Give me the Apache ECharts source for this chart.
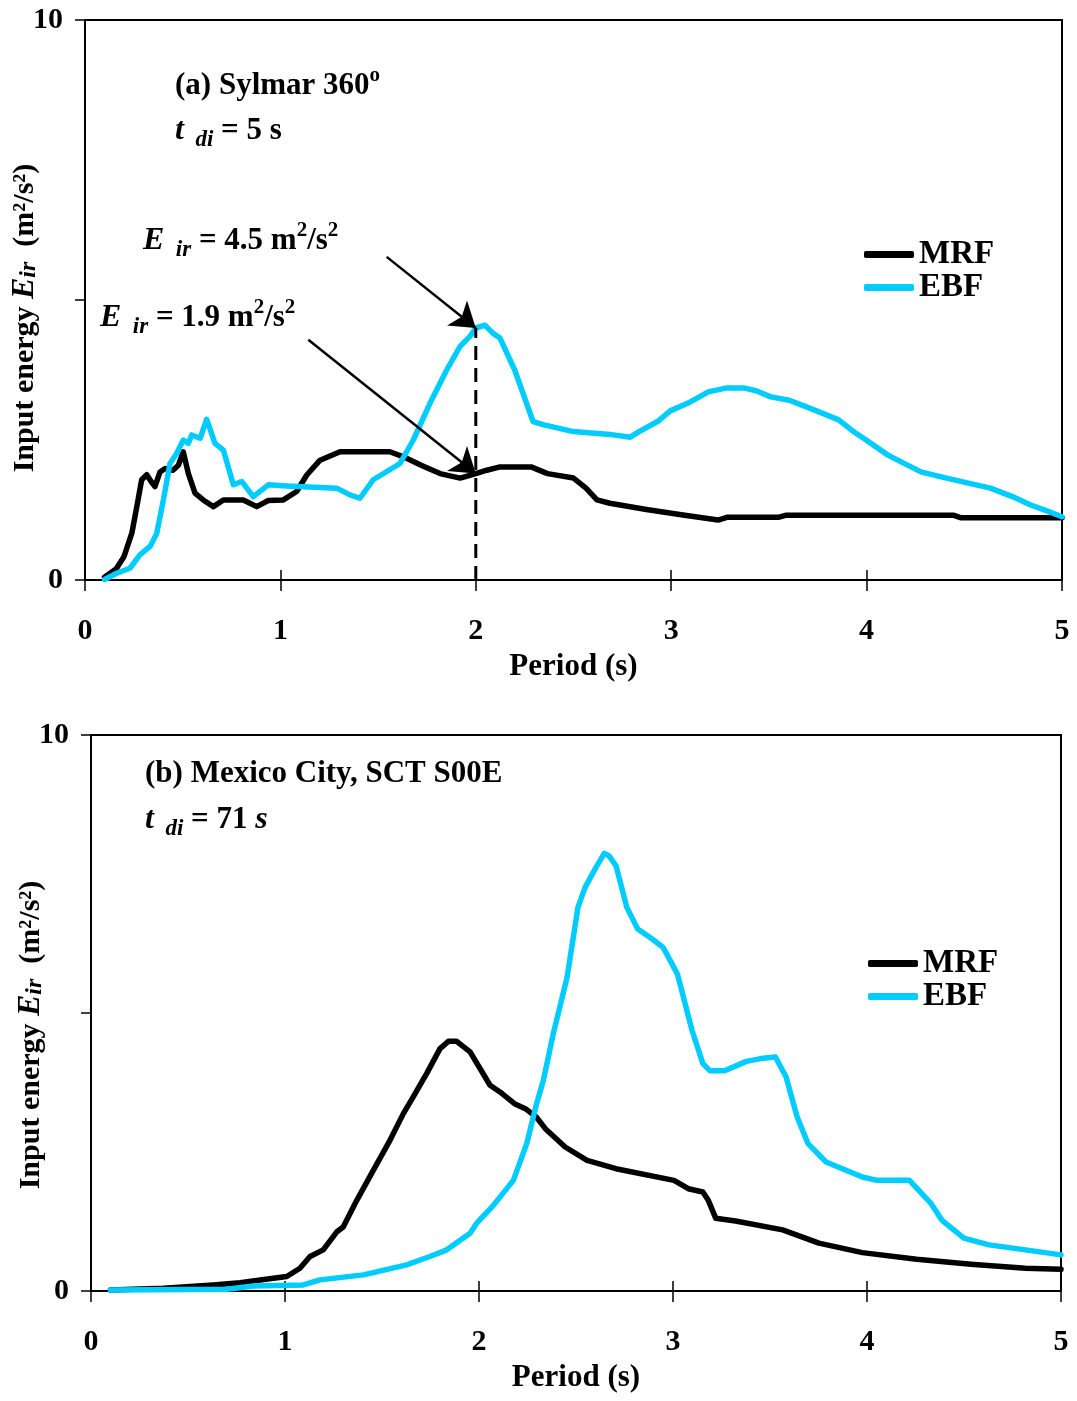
<!DOCTYPE html>
<html>
<head>
<meta charset="utf-8">
<script src="https://cdn.jsdelivr.net/npm/echarts@6/dist/echarts.min.js"></script>
<style>
  html, body { margin: 0; padding: 0; background: #fff; }
  #chart { width: 1077px; height: 1401px; }
</style>
</head>
<body>
<div id="chart"></div>
<script>
// Input energy spectra, [period (s), E_ir (m²/s²)]
// (a) Sylmar 360°
const sylmarMRF = [
  [0.10,0.05],[0.16,0.20],[0.20,0.42],[0.24,0.84],[0.27,1.40],[0.29,1.79],[0.316,1.88],[0.34,1.75],
  [0.358,1.67],[0.384,1.93],[0.41,1.99],[0.45,1.96],[0.478,2.05],[0.503,2.29],[0.529,1.90],[0.563,1.55],
  [0.605,1.43],[0.657,1.31],[0.708,1.43],[0.81,1.43],[0.879,1.31],[0.938,1.42],[1.015,1.43],[1.083,1.58],
  [1.135,1.875],[1.203,2.14],[1.305,2.29],[1.56,2.29],[1.63,2.20],[1.72,2.05],[1.817,1.90],[1.92,1.82],
  [2.0,1.90],[2.056,1.96],[2.124,2.02],[2.283,2.02],[2.367,1.90],[2.5,1.82],[2.564,1.64],[2.62,1.43],
  [2.686,1.37],[2.873,1.26],[3.06,1.16],[3.24,1.07],[3.285,1.12],[3.548,1.12],[3.585,1.155],[4.447,1.155],
  [4.484,1.11],[5.0,1.11]
];
const sylmarEBF = [
  [0.10,0.01],[0.162,0.12],[0.23,0.21],[0.281,0.45],[0.333,0.60],[0.367,0.83],[0.401,1.43],[0.435,2.08],
  [0.469,2.26],[0.503,2.50],[0.529,2.44],[0.546,2.59],[0.589,2.53],[0.623,2.87],[0.665,2.44],[0.708,2.32],
  [0.759,1.70],[0.802,1.76],[0.861,1.49],[0.938,1.70],[1.032,1.68],[1.288,1.64],[1.356,1.52],[1.407,1.46],
  [1.475,1.79],[1.612,2.08],[1.68,2.50],[1.766,3.16],[1.851,3.75],[1.919,4.17],[1.97,4.35],[2.0,4.50],
  [2.047,4.55],[2.09,4.40],[2.124,4.32],[2.199,3.75],[2.293,2.83],[2.349,2.77],[2.5,2.65],[2.686,2.60],
  [2.79,2.55],[2.836,2.65],[2.93,2.83],[2.995,3.02],[3.098,3.18],[3.19,3.36],[3.285,3.43],[3.37,3.43],
  [3.435,3.38],[3.51,3.27],[3.604,3.21],[3.679,3.11],[3.772,2.98],[3.857,2.86],[3.922,2.68],[3.997,2.50],
  [4.109,2.23],[4.278,1.93],[4.371,1.85],[4.521,1.73],[4.634,1.64],[4.746,1.49],[4.84,1.34],[4.933,1.22],
  [5.0,1.13]
];
// (b) Mexico City, SCT S00E
const mexicoMRF = [
  [0.10,0.02],[0.373,0.05],[0.63,0.11],[0.768,0.15],[0.94,0.23],[1.009,0.26],[1.077,0.41],[1.129,0.62],
  [1.197,0.74],[1.266,1.06],[1.30,1.15],[1.37,1.63],[1.455,2.17],[1.541,2.71],[1.61,3.19],[1.661,3.49],
  [1.73,3.91],[1.799,4.36],[1.842,4.49],[1.885,4.49],[1.954,4.30],[2.057,3.70],[2.108,3.58],[2.183,3.37],
  [2.239,3.28],[2.295,3.13],[2.342,2.92],[2.444,2.59],[2.557,2.35],[2.706,2.20],[3.005,1.99],[3.079,1.84],
  [3.154,1.78],[3.182,1.63],[3.22,1.31],[3.322,1.26],[3.565,1.10],[3.752,0.86],[3.976,0.69],[4.256,0.57],
  [4.536,0.48],[4.817,0.41],[5.0,0.39]
];
const mexicoEBF = [
  [0.10,0.02],[0.70,0.03],[0.837,0.09],[1.094,0.11],[1.18,0.20],[1.404,0.29],[1.627,0.47],[1.747,0.62],
  [1.834,0.74],[1.954,1.04],[1.988,1.22],[2.074,1.54],[2.177,1.99],[2.246,2.65],[2.297,3.37],[2.332,3.79],
  [2.383,4.63],[2.454,5.64],[2.51,6.90],[2.547,7.26],[2.603,7.62],[2.646,7.87],[2.669,7.83],[2.706,7.65],
  [2.762,6.90],[2.818,6.51],[2.893,6.33],[2.949,6.18],[3.023,5.70],[3.098,4.69],[3.154,4.09],[3.191,3.96],
  [3.266,3.96],[3.378,4.13],[3.453,4.18],[3.528,4.21],[3.583,3.85],[3.64,3.13],[3.696,2.65],[3.789,2.32],
  [3.976,2.05],[4.051,1.99],[4.219,1.99],[4.331,1.57],[4.387,1.27],[4.499,0.95],[4.629,0.83],[4.817,0.74],
  [5.0,0.65]
];

// Values called out in panel (a) at T = 2 s
const calloutPeriod = 2.0;
const calloutEBF = 4.5;
const calloutMRF = 1.9;
// Arrow tails for the two call-outs, in (period, energy)
const arrowTailEBF = [1.544, 5.77];
const arrowTailMRF = [1.143, 4.29];

const xTicks = [0, 1, 2, 3, 4, 5];
const yTicks = [0, 5, 10];

const FONT = "'Liberation Serif', 'Times New Roman', serif";
const BLACK = '#000000';
const CYAN = '#00ccff';

const chart = echarts.init(document.getElementById('chart'), null, { renderer: 'canvas' });

const grids = [
  { left: 85, top: 20, width: 977, height: 560 },
  { left: 91, top: 735, width: 970, height: 556 }
];

function xAxisPair(gi) {
  return [
    {
      type: 'value', gridIndex: gi, min: xTicks[0], max: xTicks[xTicks.length - 1], interval: 1,
      name: 'Period (s)', nameLocation: 'middle', nameGap: 71, nameMoveOverlap: false,
      nameTextStyle: { fontFamily: FONT, fontWeight: 'bold', fontSize: 31, color: BLACK },
      axisLine: { show: true, onZero: false, lineStyle: { color: BLACK, width: 2 } },
      axisTick: { show: true, length: 11, lineStyle: { color: BLACK, width: 1.5 } },
      axisLabel: { margin: 36, fontFamily: FONT, fontWeight: 'bold', fontSize: 30, color: BLACK },
      splitLine: { show: false }
    },
    {
      // inner half of the x ticks, so the marks cross the axis line
      type: 'value', gridIndex: gi, min: xTicks[0], max: xTicks[xTicks.length - 1], interval: 1,
      position: 'bottom',
      axisLine: { show: false },
      axisTick: { show: true, inside: true, length: 10, lineStyle: { color: BLACK, width: 1.5 } },
      axisLabel: { show: false },
      splitLine: { show: false }
    }
  ];
}

function yAxisOf(gi, pad) {
  return {
    type: 'value', gridIndex: gi, min: yTicks[0], max: yTicks[yTicks.length - 1], interval: 5,
    name: '{n|Input energy }{e|E}{s|ir}{n|  (m²/s²)}',
    nameLocation: 'middle', nameGap: 44, nameMoveOverlap: false,
    nameTextStyle: {
      padding: [0, pad, 0, 0],
      rich: {
        n: { fontFamily: FONT, fontWeight: 'bold', fontSize: 30, color: BLACK },
        e: { fontFamily: FONT, fontWeight: 'bold', fontStyle: 'italic', fontSize: 32, color: BLACK },
        s: { fontFamily: FONT, fontWeight: 'bold', fontStyle: 'italic', fontSize: 24, color: BLACK, verticalAlign: 'bottom' }
      }
    },
    axisLine: { show: true, onZero: false, lineStyle: { color: BLACK, width: 2 } },
    axisTick: { show: true, length: 10, lineStyle: { color: BLACK, width: 1.5 } },
    axisLabel: {
      margin: 22, fontFamily: FONT, fontWeight: 'bold', fontSize: 30, color: BLACK,
      formatter: v => (v === 5 ? '' : String(v))
    },
    splitLine: { show: false }
  };
}

function curve(name, data, color, xi, yi) {
  return {
    name, type: 'line', data, xAxisIndex: xi, yAxisIndex: yi,
    symbol: 'none', smooth: false, z: 3,
    lineStyle: { color, width: 5.5, cap: 'round', join: 'round' },
    itemStyle: { color }
  };
}

const legendText = { fontFamily: FONT, fontWeight: 'bold', fontSize: 33, color: BLACK, lineHeight: 31 };

const rich = {
  b: { fontFamily: FONT, fontWeight: 'bold', fontSize: 31, color: BLACK },
  bi: { fontFamily: FONT, fontWeight: 'bold', fontStyle: 'italic', fontSize: 32, color: BLACK },
  sub: { fontFamily: FONT, fontWeight: 'bold', fontStyle: 'italic', fontSize: 23, color: BLACK, verticalAlign: 'bottom', lineHeight: 42 },
  sup: { fontFamily: FONT, fontWeight: 'bold', fontSize: 21, color: BLACK, verticalAlign: 'top', lineHeight: 42 }
};

function note(x, y, text) {
  return {
    type: 'text', x, y, z: 10,
    style: { text, rich, verticalAlign: 'middle', align: 'left', font: 'bold 31px ' + FONT, fill: BLACK }
  };
}

const legendBase = {
  data: ['MRF', 'EBF'], orient: 'vertical', padding: 0, icon: 'roundRect',
  itemWidth: 50, itemHeight: 7, itemGap: 0, textStyle: legendText, selectedMode: false
};

const option = {
  backgroundColor: '#ffffff',
  animation: false,
  grid: grids.map(g => Object.assign({
    show: true, borderColor: BLACK, borderWidth: 2, backgroundColor: 'transparent',
    containLabel: false, outerBoundsMode: 'none'
  }, g)),
  xAxis: [...xAxisPair(0), ...xAxisPair(1)],
  yAxis: [yAxisOf(0, 36), yAxisOf(1, 44)],
  legend: [
    Object.assign({ left: 864, top: 238 }, legendBase),
    Object.assign({ left: 868, top: 947 }, legendBase)
  ],
  series: [
    curve('MRF', sylmarMRF, BLACK, 0, 0),
    curve('EBF', sylmarEBF, CYAN, 0, 0),
    {
      name: 'callout', type: 'line', xAxisIndex: 0, yAxisIndex: 0, symbol: 'none', z: 4,
      data: [[calloutPeriod, 0], [calloutPeriod, calloutEBF]],
      lineStyle: { color: BLACK, width: 3, type: [14, 8] }
    },
    {
      name: 'arrows', type: 'lines', coordinateSystem: 'cartesian2d', xAxisIndex: 0, yAxisIndex: 0, z: 5,
      symbol: ['none', 'arrow'], symbolSize: [1, 24],
      lineStyle: { color: BLACK, width: 2.5, opacity: 1, curveness: 0 },
      data: [
        { coords: [arrowTailEBF, [calloutPeriod, calloutEBF]] },
        { coords: [arrowTailMRF, [calloutPeriod, calloutMRF]] }
      ]
    },
    curve('MRF', mexicoMRF, BLACK, 2, 1),
    curve('EBF', mexicoEBF, CYAN, 2, 1)
  ],
  graphic: [
    note(175, 86, '{b|(a) Sylmar 360}{sup|o}'),
    note(175, 131, '{bi|t}{sub|  di}{b| = 5 s}'),
    note(143, 241, '{bi|E}{sub|  ir}{b| = 4.5 m}{sup|2}{b|/s}{sup|2}'),
    note(100, 318, '{bi|E}{sub|  ir}{b| = 1.9 m}{sup|2}{b|/s}{sup|2}'),
    note(145, 774, '{b|(b) Mexico City, SCT S00E}'),
    note(145, 820, '{bi|t}{sub|  di}{b| = 71 }{bi|s}')
  ]
};

chart.setOption(option);
</script>
</body>
</html>
